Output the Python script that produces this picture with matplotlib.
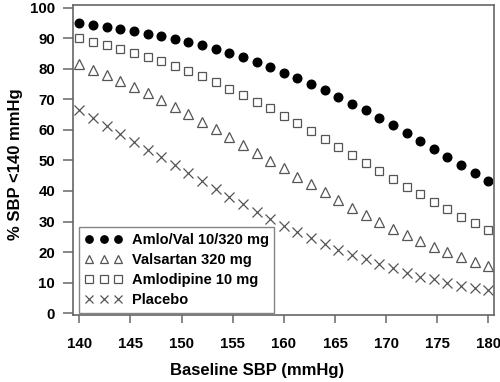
import numpy as np
import matplotlib
matplotlib.use("Agg")
import matplotlib.pyplot as plt

plt.rcParams['font.family'] = ['Liberation Sans', 'DejaVu Sans']
plt.rcParams['font.weight'] = 'bold'

# baseline SBP, one point every 4/3 mmHg from 140 to 180
baseline_sbp = np.linspace(140, 180, 31)

amlo_val = [95.0, 94.3, 93.8, 92.9, 92.2, 91.5, 90.6, 89.6, 88.6, 87.7,
            86.4, 85.2, 83.7, 82.1, 80.5, 78.7, 77.0, 75.0, 73.0, 70.9,
            68.6, 66.4, 64.0, 61.5, 59.0, 56.4, 53.8, 51.2, 48.6, 45.9, 43.3]
valsartan = [81.4, 79.6, 77.9, 76.0, 74.0, 72.0, 69.8, 67.5, 65.1, 62.7,
             60.2, 57.7, 55.2, 52.5, 49.9, 47.4, 44.6, 42.2, 39.5, 36.9,
             34.5, 32.1, 29.8, 27.6, 25.5, 23.6, 21.7, 20.0, 18.3, 16.9, 15.4]
amlodipine = [90.1, 88.9, 87.9, 86.6, 85.3, 83.9, 82.5, 80.9, 79.3, 77.5,
              75.6, 73.5, 71.4, 69.2, 67.0, 64.6, 62.2, 59.7, 57.1, 54.4,
              51.7, 49.1, 46.5, 44.0, 41.4, 38.9, 36.3, 34.0, 31.6, 29.4, 27.1]
placebo = [66.4, 63.8, 61.2, 58.8, 56.1, 53.5, 51.0, 48.4, 45.8, 43.4,
           40.6, 38.1, 35.6, 33.2, 30.8, 28.6, 26.7, 24.5, 22.5, 20.7,
           19.1, 17.6, 16.0, 14.7, 13.3, 12.0, 11.1, 10.0, 9.0, 8.3, 7.5]

series_labels = ['Amlo/Val 10/320 mg', 'Valsartan 320 mg',
                 'Amlodipine 10 mg', 'Placebo']

x_ticks = [140, 145, 150, 155, 160, 165, 170, 175, 180]
y_ticks = [0, 10, 20, 30, 40, 50, 60, 70, 80, 90, 100]

fig = plt.figure(figsize=(5, 3.82), dpi=100)
ax = fig.add_axes([0.1454, 0.1754, 0.8426, 0.8126])

gray = '#555555'
ax.plot(baseline_sbp, amlo_val, linestyle='none', marker='o', markersize=6.2,
        color='black', label=series_labels[0])
ax.plot(baseline_sbp, valsartan, linestyle='none', marker='^', markersize=7,
        markerfacecolor='none', markeredgecolor=gray, markeredgewidth=0.9,
        label=series_labels[1])
ax.plot(baseline_sbp, amlodipine, linestyle='none', marker='s', markersize=6.3,
        markerfacecolor='none', markeredgecolor=gray, markeredgewidth=0.9,
        label=series_labels[2])
ax.plot(baseline_sbp, placebo, linestyle='none', marker='x', markersize=6.8,
        color=gray, markeredgewidth=0.9, label=series_labels[3])

ax.set_xlim(139.35, 180.55)
ax.set_ylim(-0.6, 101)
ax.set_xticks(x_ticks)
ax.set_yticks(y_ticks)
ax.tick_params(direction='out', width=1.1, color='#666666', labelsize=10.8)
ax.tick_params(axis='x', length=6, pad=10)
ax.tick_params(axis='y', length=7.2, pad=5.5)
for lbl in ax.get_xticklabels() + ax.get_yticklabels():
    lbl.set_fontweight('bold')
for sp in ax.spines.values():
    sp.set_color('#666666')
    sp.set_linewidth(1.2)

ax.set_xlabel('Baseline SBP (mmHg)', fontsize=12, fontweight='bold')
ax.xaxis.set_label_coords(0.437, -0.155)
ax.set_ylabel('% SBP <140 mmHg', fontsize=12, fontweight='bold')
ax.yaxis.set_label_coords(-0.118, 0.485)

leg = ax.legend(loc='lower left', bbox_to_anchor=(0.015, 0.006), numpoints=3,
                fancybox=False, frameon=True, fontsize=10.5, handlelength=2.6,
                handletextpad=0.6, borderpad=0.4, labelspacing=0.42,
                borderaxespad=0, markerscale=0.85)
leg.get_frame().set_edgecolor('#666666')
leg.get_frame().set_linewidth(1.0)
for t in leg.get_texts():
    t.set_fontweight('bold')

fig.savefig('out.png', dpi=100)
